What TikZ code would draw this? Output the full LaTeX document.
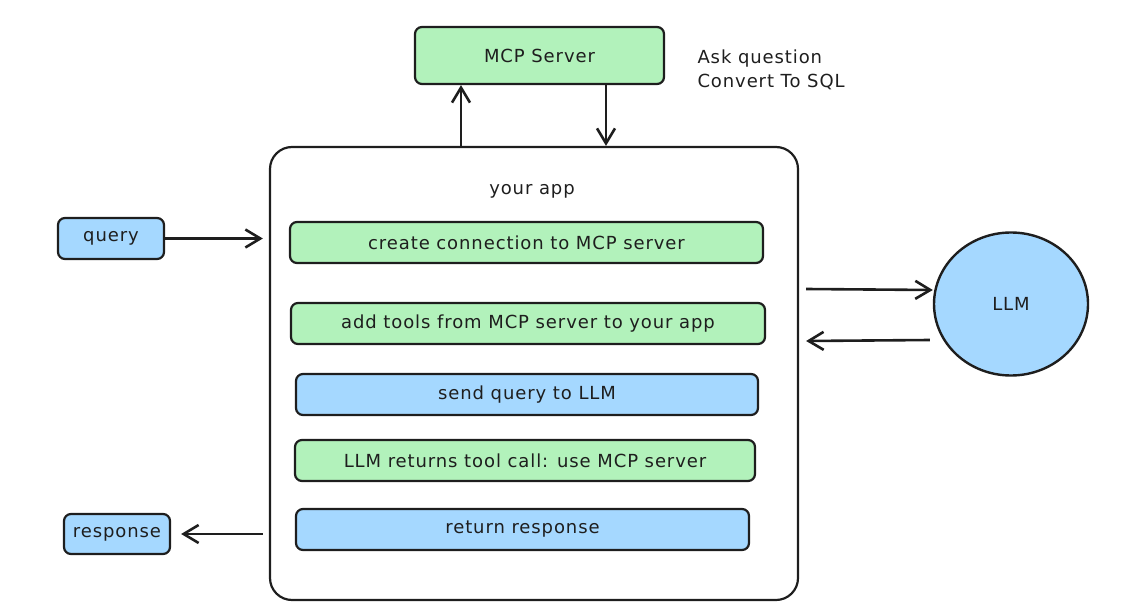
\documentclass[tikz,border=0pt]{standalone}
\usepackage{fontspec}
\setmainfont{DejaVu Sans}[LetterSpace=5]
\usetikzlibrary{arrows.meta,shapes.geometric,positioning}
\definecolor{stepgreen}{HTML}{B2F2BB}
\definecolor{stepblue}{HTML}{A5D8FF}
\definecolor{ink}{HTML}{1E1E1E}

\begin{document}
\begin{tikzpicture}[x=1pt,y=-1pt,
		every node/.style={text=ink, font=\fontsize{18}{24}\selectfont},
		box/.style={draw=ink, line width=2.2pt, rounded corners=7pt, inner sep=0pt, minimum height=41pt},
		greenbox/.style={box, fill=stepgreen},
		bluebox/.style={box, fill=stepblue},
		arr/.style={draw=ink, line width=2.6pt, -{Straight Barb[length=15pt,width=18pt]}},
	]
		\useasboundingbox (0,0) rectangle (1131,612);
		\node[greenbox, minimum width=249pt, minimum height=57pt] (mcp) at (539.5,55.5) {MCP Server};
		\node[anchor=west, align=left] (note) at (694,70) {Ask question\\Convert To SQL};
		\node[draw=ink, line width=2.2pt, rounded corners=22pt, minimum width=528pt, minimum height=453pt] (app) at (534,373.5) {};
		\node (title) at (532,191) {your app};
		\node[greenbox, minimum width=473pt] (conn) at (526.5,242.5) {create connection to MCP server};
		\node[greenbox, minimum width=474pt] (tools) at (528,323.5) {add tools from MCP server to your app};
		\node[bluebox, minimum width=462pt] (send) at (527,394.5) {send query to LLM};
		\node[greenbox, minimum width=460pt] (call) at (525,460.5) {LLM returns tool call: use MCP server};
		\node[bluebox, minimum width=453pt] (ret) at (522.5,529.5) {return response};
		\node[bluebox, minimum width=106pt] (query) at (111,238.5) {query};
		\node[bluebox, minimum width=106pt, minimum height=40pt] (resp) at (117,534) {response};
		\node[ellipse, draw=ink, line width=2.4pt, fill=stepblue, minimum width=154pt, minimum height=143pt] (llm) at (1011,304) {LLM};
		\draw[arr] (app.north -| 461,0) -- (mcp.south -| 461,0);
		\draw[arr] (mcp.south -| 606,0) -- (app.north -| 606,0);
		\draw[arr] (query.east) -- ([xshift=-6pt]app.west |- query.east);
		\draw[arr] ([xshift=-6pt]app.west |- resp.east) -- ([xshift=10pt]resp.east);
		\draw[arr] ([xshift=7pt]app.east |- 0,289) -- (llm.west |- 0,290);
		\draw[arr] ([xshift=-3pt]llm.west |- 0,340) -- ([xshift=7pt]app.east |- 0,341);
	\end{tikzpicture}
\end{document}
